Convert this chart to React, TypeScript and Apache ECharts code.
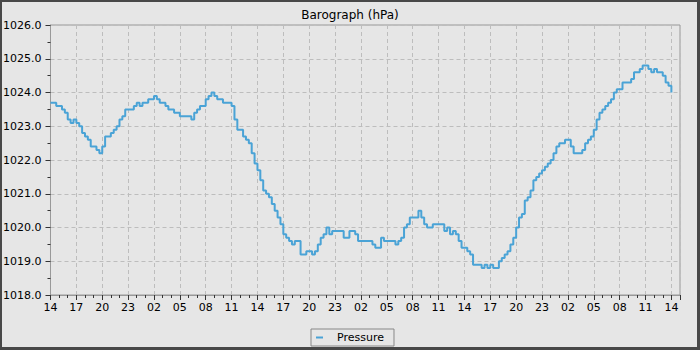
import React, { useEffect, useRef } from "react";
import * as echarts from "echarts";

// Pressure readings every 20 minutes, starting at 14:00 on day 1 (hPa)
const day1: number[] = [
  1023.7, 1023.7, 1023.6, 1023.6, 1023.5, 1023.4, 1023.2, 1023.1, 1023.2,
  1023.1, 1023.0, 1022.8, 1022.7, 1022.6, 1022.4, 1022.4, 1022.3, 1022.2,
  1022.4, 1022.7, 1022.7, 1022.8, 1022.9, 1023.0, 1023.2, 1023.3, 1023.5,
  1023.5, 1023.5, 1023.6, 1023.7, 1023.6, 1023.7, 1023.7, 1023.8, 1023.8,
  1023.9, 1023.8, 1023.7, 1023.7, 1023.6, 1023.5, 1023.5, 1023.4, 1023.4,
  1023.3, 1023.3, 1023.3, 1023.3, 1023.2, 1023.4, 1023.5, 1023.6, 1023.6,
  1023.8, 1023.9, 1024.0, 1023.9, 1023.8, 1023.8, 1023.7, 1023.7, 1023.7,
  1023.6, 1023.2, 1022.9, 1022.9, 1022.7, 1022.6, 1022.5, 1022.2, 1021.9,
];
const day2: number[] = [
  1021.7, 1021.4, 1021.1, 1021.0, 1020.9, 1020.7, 1020.5, 1020.3, 1020.1,
  1019.8, 1019.7, 1019.6, 1019.5, 1019.6, 1019.6, 1019.2, 1019.2, 1019.3,
  1019.3, 1019.2, 1019.3, 1019.5, 1019.7, 1019.8, 1020.0, 1019.8, 1019.9,
  1019.9, 1019.9, 1019.9, 1019.7, 1019.7, 1019.9, 1019.9, 1019.8, 1019.6,
  1019.6, 1019.6, 1019.6, 1019.6, 1019.5, 1019.4, 1019.4, 1019.7, 1019.6,
  1019.6, 1019.6, 1019.6, 1019.5, 1019.6, 1019.7, 1020.0, 1020.1, 1020.3,
  1020.3, 1020.3, 1020.5, 1020.3, 1020.1, 1020.0, 1020.0, 1020.1, 1020.1,
  1020.1, 1020.1, 1019.9, 1020.0, 1019.8, 1019.9, 1019.8, 1019.6, 1019.4,
];
const day3: number[] = [
  1019.4, 1019.3, 1019.2, 1018.9, 1018.9, 1018.9, 1018.8, 1018.9, 1018.8,
  1018.9, 1018.8, 1018.8, 1019.0, 1019.1, 1019.2, 1019.3, 1019.5, 1019.7,
  1020.0, 1020.3, 1020.4, 1020.8, 1020.9, 1021.1, 1021.4, 1021.5, 1021.6,
  1021.7, 1021.8, 1021.9, 1022.0, 1022.2, 1022.4, 1022.5, 1022.5, 1022.6,
  1022.6, 1022.4, 1022.2, 1022.2, 1022.2, 1022.3, 1022.5, 1022.6, 1022.7,
  1022.9, 1023.2, 1023.4, 1023.5, 1023.6, 1023.7, 1023.8, 1024.0, 1024.1,
  1024.1, 1024.3, 1024.3, 1024.3, 1024.4, 1024.6, 1024.6, 1024.7, 1024.8,
  1024.8, 1024.7, 1024.6, 1024.7, 1024.6, 1024.6, 1024.5, 1024.3, 1024.2,
];
const lastReading: number[] = [1024.0];

const hourLabels: string[] = [
  "14", "17", "20", "23", "02", "05", "08", "11",
  "14", "17", "20", "23", "02", "05", "08", "11",
  "14", "17", "20", "23", "02", "05", "08", "11", "14",
];

const seriesName = "Pressure";
const titleText = "Barograph (hPa)";
const stepHours = 1 / 3;

const FONT = "DejaVu Sans";

export default function App() {
  const ref = useRef<HTMLDivElement>(null);

  useEffect(() => {
    if (!ref.current) return;
    const chart = echarts.init(ref.current, null, { renderer: "svg" });
    const values = [...day1, ...day2, ...day3, ...lastReading];
    const data = values.map((v, i) => [i * stepHours, v]);

    chart.setOption({
      animation: false,
      backgroundColor: "#e6e6e6",
      textStyle: { fontFamily: FONT },
      title: {
        text: titleText,
        left: "center",
        top: 4,
        textStyle: { fontFamily: FONT, fontSize: 12, fontWeight: "normal", color: "#000" },
      },
      legend: {
        data: [seriesName],
        left: "center",
        top: 329,
        padding: [3, 10, 3, 5],
        borderColor: "#888",
        borderWidth: 1,
        icon: "rect",
        itemWidth: 7,
        itemHeight: 2,
        textStyle: { fontFamily: FONT, fontSize: 11, color: "#000", padding: [0, 0, 0, 9] },
      },
      grid: {
        left: 50,
        right: 20,
        top: 25,
        bottom: 55,
        show: true,
        borderColor: "#999",
        borderWidth: 1,
        backgroundColor: "transparent",
      },
      xAxis: {
        type: "value",
        min: 0,
        max: 73,
        interval: 3,
        axisLine: { show: true, lineStyle: { color: "#999", width: 1 } },
        axisTick: { show: true, length: 5, lineStyle: { color: "#333" } },
        minorTick: { show: true, splitNumber: 3, length: 3, lineStyle: { color: "#333" } },
        axisLabel: {
          margin: 7,
          color: "#000",
          fontFamily: FONT,
          fontSize: 11,
          showMaxLabel: false,
          formatter: (v: number) => {
            const idx = Math.round(v / 3);
            return Math.abs(v - idx * 3) < 1e-6 && hourLabels[idx] !== undefined ? hourLabels[idx] : "";
          },
        },
        splitLine: { show: true, lineStyle: { color: "#bdbdbd", type: [4, 3], width: 1 } },
      },
      yAxis: {
        type: "value",
        min: 1018,
        max: 1026,
        interval: 1,
        axisLine: { show: true, lineStyle: { color: "#999", width: 1 } },
        axisTick: { show: true, length: 5, lineStyle: { color: "#333" } },
        minorTick: { show: true, splitNumber: 2, length: 3, lineStyle: { color: "#333" } },
        axisLabel: {
          margin: 9,
          color: "#000",
          fontFamily: FONT,
          fontSize: 11,
          formatter: (v: number) => v.toFixed(1),
        },
        splitLine: { show: true, lineStyle: { color: "#bdbdbd", type: [4, 3], width: 1 } },
      },
      series: [
        {
          name: seriesName,
          type: "line",
          step: "end",
          data,
          showSymbol: false,
          symbol: "none",
          color: "#4aa3d6",
          lineStyle: { color: "#4aa3d6", width: 2 },
        },
      ],
      graphic: [
        { type: "rect", z: 100, shape: { x: 0, y: 0, width: 700, height: 2 }, style: { fill: "#484848" } },
        { type: "rect", z: 100, shape: { x: 0, y: 0, width: 2, height: 350 }, style: { fill: "#484848" } },
        { type: "rect", z: 100, shape: { x: 697, y: 0, width: 3, height: 350 }, style: { fill: "#484848" } },
        { type: "rect", z: 100, shape: { x: 0, y: 347, width: 700, height: 3 }, style: { fill: "#484848" } },
      ],
    });

    return () => {
      chart.dispose();
    };
  }, []);

  return (
    <div
      ref={ref}
      style={{ position: "fixed", left: 0, top: 0, width: 700, height: 350 }}
    />
  );
}
